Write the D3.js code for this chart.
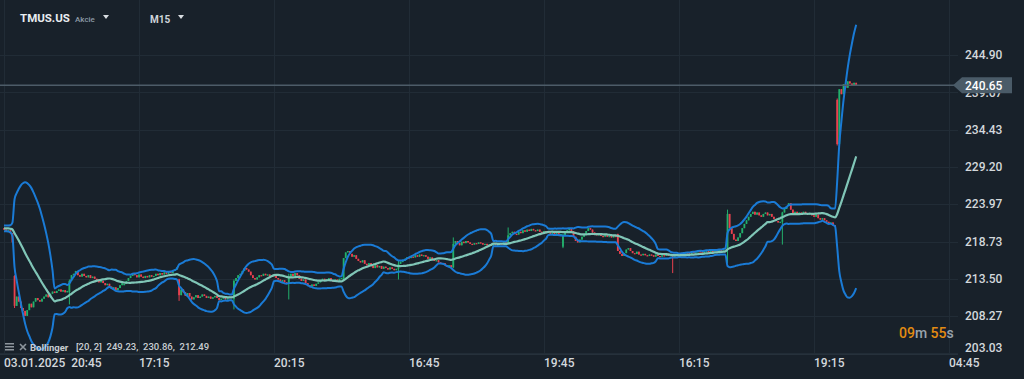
<!DOCTYPE html>
<html><head><meta charset="utf-8">
<script src="https://cdn.jsdelivr.net/npm/d3@7"></script>
<style>html,body{margin:0;padding:0;background:#18212a;overflow:hidden}svg{display:block}</style>
</head><body><svg id="c" width="1024" height="379"></svg>
<script>
// ---------- data ----------
const symbol = "TMUS.US", symbolType = "Akcie", timeframe = "M15";
const yTicks = [244.90, 239.67, 234.43, 229.20, 223.97, 218.73, 213.50, 208.27, 203.03];
const xTickLabels = ["03.01.2025  20:45", "17:15", "20:15", "16:45", "19:45", "16:15", "19:15", "04:45"];
const xTickIndex = [0, 64, 128, 192, 256, 320, 384, 448];
const lastPrice = 240.65;
const legendName = "Bollinger";
const legendValues = "[20, 2]  249.23,  230.86,  212.49";
const timerParts = [["09", "o"], ["m ", "g"], ["55", "o"], ["s", "g"]];
// closes before first visible candle (needed by the 20-period indicator)
const priorCloses = [220.2, 220.5, 220.8, 220.6, 220.3, 220.7, 220.9, 220.4, 220.6, 220.8, 220.5, 220.3, 220.6, 220.9, 220.7, 220.4, 220.6, 220.8, 220.5];
// opening price of each session's first candle
const dayOpens = [220.6, 213.9, 211.6, 212.6, 213.4, 210.7, 212.8, 213.4, 214.9, 215.1, 218.4, 218.0, 219.8, 216.8, 217.8, 221.5, 238.6];
// closes per session (M15)
const day0 = [220.4, 220.2, 220.3, 219.9, 218.6];
const day1 = [209.7, 211.0, 210.3, 209.4, 209.0, 208.3, 209.1, 210.0, 209.5, 210.3, 210.8, 210.5, 210.3, 210.7, 211.0, 211.3, 210.9, 211.4, 211.7, 211.5, 211.8, 212.0, 211.7, 211.9, 211.6, 211.8];
const day2 = [213.2, 214.0, 214.2, 214.6, 214.0, 213.8, 214.2, 213.9, 213.7, 214.0, 213.6, 213.8, 213.5, 213.4, 213.0, 213.2, 212.9, 212.6, 212.8, 212.4, 212.1, 212.3, 211.9, 212.2, 212.6, 212.9];
const day3 = [212.8, 213.2, 213.6, 213.9, 214.2, 214.0, 213.7, 214.1, 213.8, 213.6, 213.9, 213.7, 214.0, 213.8, 213.9, 214.2, 214.0, 214.3, 214.1, 214.4, 214.2, 214.5, 214.3, 214.6, 214.8, 215.1];
const day4 = [211.2, 212.0, 211.6, 211.1, 211.5, 211.0, 210.6, 210.9, 211.2, 210.8, 211.0, 211.3, 211.1, 210.8, 211.0, 210.7, 210.9, 211.1, 210.8, 210.5, 210.7, 210.9, 210.6, 210.8, 211.0, 210.9];
const day5 = [213.2, 213.6, 214.0, 214.2, 214.6, 215.0, 214.8, 214.5, 214.0, 213.6, 213.4, 213.7, 214.0, 213.9, 214.2, 214.0, 214.1, 213.8, 214.0, 213.9, 213.6, 213.4, 213.1, 213.3, 213.0, 212.9];
const day6 = [213.8, 214.2, 213.9, 214.3, 214.0, 213.5, 213.2, 213.4, 212.9, 212.6, 212.4, 212.7, 212.5, 212.8, 213.0, 213.3, 213.5, 213.2, 213.4, 213.6, 213.3, 213.1, 213.4, 213.2, 213.5, 213.6];
const day7 = [216.4, 217.2, 217.4, 217.0, 216.6, 216.8, 216.3, 216.0, 215.8, 216.1, 215.6, 215.4, 215.7, 215.3, 215.0, 215.4, 215.1, 215.3, 214.9, 215.2, 215.0, 214.8, 215.1, 214.9, 214.7, 214.9];
const day8 = [215.6, 215.9, 216.0, 216.3, 216.5, 216.4, 216.6, 216.5, 216.8, 216.6, 216.9, 216.7, 216.8, 216.6, 216.3, 216.5, 216.2, 216.0, 216.1, 215.8, 215.6, 215.7, 215.4, 215.2, 215.4, 215.1];
const day9 = [218.4, 218.8, 218.5, 218.2, 218.7, 218.5, 218.8, 218.6, 218.4, 218.3, 218.5, 218.4, 218.6, 218.5, 218.3, 218.4, 218.2, 218.3, 218.1, 218.4, 218.2, 218.3, 218.5, 218.3, 218.6, 218.4];
const day10 = [219.6, 219.9, 220.1, 219.8, 219.7, 220.1, 219.9, 220.3, 220.1, 220.4, 220.2, 220.5, 220.3, 220.2, 220.4, 220.1, 220.0, 220.2, 219.9, 220.1, 219.8, 220.0, 219.7, 219.9, 219.6, 219.8];
const day11 = [219.6, 220.0, 220.3, 220.5, 220.2, 219.4, 218.8, 218.6, 219.0, 219.4, 219.8, 220.2, 220.6, 220.4, 220.0, 219.8, 219.6, 219.8, 219.5, 219.4, 219.6, 219.4, 219.5, 219.3, 219.5, 219.4];
const day12 = [217.4, 217.0, 216.7, 217.1, 217.6, 217.8, 217.4, 217.1, 217.0, 217.3, 216.9, 216.8, 217.0, 216.8, 216.7, 216.9, 216.8, 216.6, 216.9, 216.7, 216.6, 216.8, 216.7, 216.9, 216.7, 216.8];
const day13 = [216.6, 216.9, 217.0, 216.9, 217.1, 217.0, 217.2, 217.1, 217.0, 217.3, 217.1, 217.2, 217.4, 217.2, 217.1, 217.3, 217.5, 217.2, 217.4, 217.3, 217.5, 217.4, 217.6, 217.5, 217.7, 217.8];
const day14 = [222.6, 220.6, 219.8, 219.0, 218.8, 219.3, 219.9, 220.6, 221.2, 221.7, 222.2, 222.6, 222.9, 222.5, 222.8, 222.4, 222.2, 222.6, 222.8, 222.4, 222.6, 222.2, 221.9, 221.6, 221.4, 221.5];
const day15 = [222.8, 223.3, 223.7, 224.1, 223.2, 222.7, 222.9, 222.5, 222.8, 222.6, 222.9, 222.7, 222.5, 222.7, 222.4, 222.2, 222.5, 222.0, 221.8, 222.0, 221.7, 221.5, 221.2, 221.4, 221.0, 220.9];
const day16 = [232.4, 240.1, 239.4, 240.8, 240.3, 241.2, 240.9, 240.6, 241.0, 240.65];
// notable wicks: [candle index, high, low]
const wicks = [[5, 214.0, 209.4], [31, 213.4, 209.9], [83, 213.5, 210.4], [109, 213.4, 209.2], [135, 214.2, 210.6], [187, 216.0, 213.4],
  [213, 219.3, 215.0], [239, 220.7, 218.3], [265, 219.8, 217.8], [317, 216.9, 214.3], [343, 223.2, 215.7],
  [369, 222.9, 218.3], [395, 238.8, 232.2]];

// ---------- build ----------
const days = [day0, day1, day2, day3, day4, day5, day6, day7, day8, day9, day10, day11, day12, day13, day14, day15, day16];
const candles = [];
days.forEach((d, di) => d.forEach((c, k) => {
  const o = k === 0 ? dayOpens[di] : d[k - 1];
  candles.push({ i: candles.length, o, c, h: Math.max(o, c), l: Math.min(o, c) });
}));
wicks.forEach(([i, h, l]) => { candles[i].h = Math.max(candles[i].h, h); candles[i].l = Math.min(candles[i].l, l); });

const allCloses = priorCloses.concat(candles.map(d => d.c));
const P = priorCloses.length;
const bb = candles.map((d, i) => {
  const w = allCloses.slice(P + i - 19, P + i + 1);
  const m = d3.mean(w);
  const sd = Math.sqrt(d3.mean(w, v => (v - m) * (v - m)));
  return { i, m, u: m + 2 * sd, lo: m - 2 * sd };
});

const W = 1024, H = 379, plotR = 958, plotB = 354;
const x = d3.scaleLinear().domain([0, 64]).range([4, 139]);
const y = d3.scaleLinear().domain([203.03, 244.90]).range([353.4, 55]);

const svg = d3.select("#c");
svg.append("rect").attr("width", W).attr("height", H).attr("fill", "#18212a");
const defs = svg.append("defs");
defs.append("clipPath").attr("id", "plot").append("rect").attr("x", 0).attr("y", 0).attr("width", 952).attr("height", plotB);

// grid
const grid = svg.append("g").attr("stroke", "#212c36").attr("stroke-width", 1);
yTicks.forEach(t => grid.append("line").attr("x1", 0).attr("x2", plotR).attr("y1", Math.round(y(t)) + 0.5).attr("y2", Math.round(y(t)) + 0.5));
xTickIndex.forEach(t => grid.append("line").attr("x1", Math.round(x(t)) + 0.5).attr("x2", Math.round(x(t)) + 0.5).attr("y1", 0).attr("y2", plotB));
svg.append("line").attr("x1", 0).attr("x2", plotR).attr("y1", plotB + 0.5).attr("y2", plotB + 0.5).attr("stroke", "#26313b");

// candles
const cg = svg.append("g").attr("clip-path", "url(#plot)");
const up = "#22b06c", dn = "#e8414e";
cg.selectAll(".w").data(candles).join("line")
  .attr("x1", d => x(d.i)).attr("x2", d => x(d.i))
  .attr("y1", d => y(d.h)).attr("y2", d => y(d.l))
  .attr("stroke", d => d.c >= d.o ? up : dn).attr("stroke-width", 1);
cg.selectAll(".b").data(candles).join("rect")
  .attr("x", d => x(d.i) - 0.9).attr("width", 1.8)
  .attr("y", d => y(Math.max(d.o, d.c)))
  .attr("height", d => Math.max(1.2, Math.abs(y(d.o) - y(d.c))))
  .attr("fill", d => d.c >= d.o ? up : dn);

// bollinger
const lg = svg.append("g").attr("clip-path", "url(#plot)").attr("fill", "none");
const ln = key => d3.line().x(d => x(d.i)).y(d => y(d[key])).curve(d3.curveMonotoneX)(bb);
lg.append("path").attr("d", ln("u")).attr("stroke", "#1a7bd6").attr("stroke-width", 2);
lg.append("path").attr("d", ln("lo")).attr("stroke", "#1a7bd6").attr("stroke-width", 2);
lg.append("path").attr("d", ln("m")).attr("stroke", "#80c6b7").attr("stroke-width", 2.2);

// price line
svg.append("line").attr("x1", 0).attr("x2", 956).attr("y1", y(lastPrice)).attr("y2", y(lastPrice))
  .attr("stroke", "#4d5c68").attr("stroke-width", 1.5);

// y labels
const font = "Roboto, 'Liberation Sans', sans-serif";
yTicks.forEach(t => {
  svg.append("text").attr("x", 965).attr("y", Math.min(y(t), 348)).attr("dy", "0.36em")
    .attr("font-family", font).attr("font-size", 12).attr("font-weight", 500)
    .attr("fill", "#d3d8dc").text(t.toFixed(2));
});
// last price tag
const py = y(lastPrice);
svg.append("path").attr("d", `M953,${py} L962,${py - 8} L1012,${py - 8} L1012,${py + 8} L962,${py + 8} Z`).attr("fill", "#4a5b68");
svg.append("text").attr("x", 965).attr("y", py).attr("dy", "0.36em").attr("font-family", font).attr("font-size", 12)
  .attr("font-weight", 500).attr("fill", "#ffffff").text(lastPrice.toFixed(2));

// x labels
xTickIndex.forEach((t, k) => {
  svg.append("text").attr("x", Math.round(x(t))).attr("y", 363).attr("dy", "0.36em")
    .attr("font-family", font).attr("font-size", 12).attr("font-weight", 500).attr("fill", "#d3d8dc")
    .style("white-space", "pre").text(xTickLabels[k]);
});

// header
svg.append("text").attr("x", 20).attr("y", 18).attr("dy", "0.36em").attr("font-family", font).attr("font-size", 11.5)
  .attr("font-weight", 700).attr("fill", "#e9edf0").text(symbol);
svg.append("text").attr("x", 75).attr("y", 19).attr("dy", "0.36em").attr("font-family", font).attr("font-size", 8)
  .attr("font-weight", 500).attr("fill", "#8c9aa6").text(symbolType);
svg.append("path").attr("d", "M103,15 L109,15 L106,19 Z").attr("fill", "#d8dde1");
svg.append("text").attr("x", 150).attr("y", 19).attr("dy", "0.36em").attr("font-family", font).attr("font-size", 10)
  .attr("font-weight", 700).attr("fill", "#cfd5da").text(timeframe);
svg.append("path").attr("d", "M178,15 L184,15 L181,19 Z").attr("fill", "#d8dde1");

// legend
const lgG = svg.append("g");
lgG.append("rect").attr("x", 5).attr("y", 343).attr("width", 9).attr("height", 1.5).attr("fill", "#8d969d");
lgG.append("rect").attr("x", 5).attr("y", 346).attr("width", 9).attr("height", 1.5).attr("fill", "#8d969d");
lgG.append("rect").attr("x", 5).attr("y", 349).attr("width", 9).attr("height", 1.5).attr("fill", "#8d969d");
lgG.append("path").attr("d", "M20,344 L26,350 M26,344 L20,350").attr("stroke", "#8d969d").attr("stroke-width", 1.6);
lgG.append("text").attr("x", 30).attr("y", 348).attr("dy", "0.36em").attr("font-family", font).attr("font-size", 9.5)
  .attr("font-weight", 700).attr("fill", "#c9ced2").text(legendName);
lgG.append("text").attr("x", 76).attr("y", 347).attr("dy", "0.36em").attr("font-family", font).attr("font-size", 9.5)
  .attr("font-weight", 500).attr("fill", "#c9ced2").style("white-space", "pre").text(legendValues);

// timer
const tt = svg.append("text").attr("x", 899).attr("y", 333).attr("dy", "0.36em").attr("font-family", font).attr("font-size", 14)
  .attr("font-weight", 500).style("white-space", "pre");
timerParts.forEach(([s, c]) => tt.append("tspan").attr("fill", c === "o" ? "#e38c12" : "#9aa3ab").text(s));
</script></body></html>
